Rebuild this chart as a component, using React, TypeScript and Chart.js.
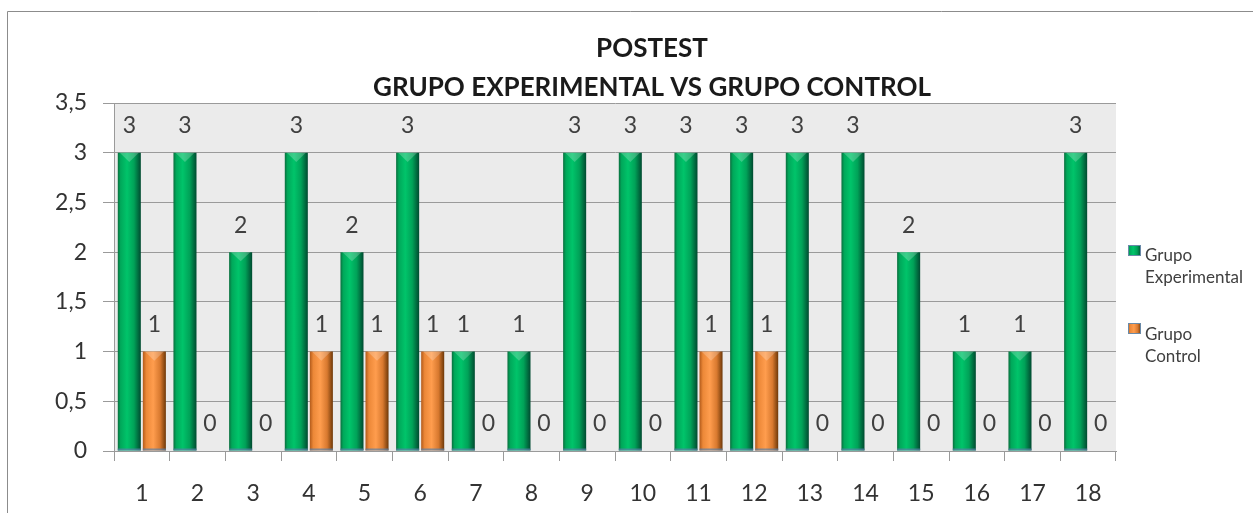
import React, { useEffect, useRef } from "react";
import { Chart, registerables } from "chart.js";

Chart.register(...registerables);

const categories = ["1", "2", "3", "4", "5", "6", "7", "8", "9", "10", "11", "12", "13", "14", "15", "16", "17", "18"];
const grupoExperimental = [3, 3, 2, 3, 2, 3, 1, 1, 3, 3, 3, 3, 3, 3, 2, 1, 1, 3];
const grupoControl = [1, 0, 0, 1, 1, 1, 0, 0, 0, 0, 1, 1, 0, 0, 0, 0, 0, 0];
const seriesNames = ["Grupo Experimental", "Grupo Control"];
const titleLines = ["POSTEST", "GRUPO EXPERIMENTAL VS GRUPO CONTROL"];

const FONT = "Lato";
const CAT_PCT = 0.9;
const BAR_PCT = 0.92;

const greenStops: [number, string][] = [
  [0, "#0a6e3e"],
  [0.12, "#00a85a"],
  [0.4, "#00c46a"],
  [0.7, "#00a258"],
  [1, "#004a30"],
];
const orangeStops: [number, string][] = [
  [0, "#b25a1a"],
  [0.15, "#ec8838"],
  [0.45, "#ff9d4e"],
  [0.75, "#d8792f"],
  [1, "#6e3808"],
];

function barGradient(ctx: any, stops: [number, string][]) {
  const chart = ctx.chart;
  const xs = chart.scales && chart.scales.x;
  if (!xs || ctx.dataIndex === undefined || !chart.chartArea) return stops[2][1];
  const catW = (xs.right - xs.left) / categories.length;
  const slot = (catW * CAT_PCT) / 2;
  const w = slot * BAR_PCT;
  const c = xs.getPixelForValue(ctx.dataIndex) + (ctx.datasetIndex === 0 ? -slot / 2 : slot / 2);
  const g = chart.ctx.createLinearGradient(c - w / 2, 0, c + w / 2, 0);
  stops.forEach(([o, col]) => g.addColorStop(o, col));
  return g;
}

const decorPlugin = {
  id: "decor",
  beforeDraw(chart: any) {
    const { ctx, chartArea, width, height } = chart;
    ctx.save();
    ctx.fillStyle = "#ffffff";
    ctx.fillRect(0, 0, width, height);
    ctx.fillStyle = "#ebebeb";
    ctx.fillRect(chartArea.left, chartArea.top, chartArea.right - chartArea.left, chartArea.bottom - chartArea.top);
    ctx.strokeStyle = "#8c8c8c";
    ctx.lineWidth = 1;
    ctx.beginPath();
    ctx.moveTo(7.5, height);
    ctx.lineTo(7.5, 11.5);
    ctx.lineTo(width, 11.5);
    ctx.stroke();
    ctx.restore();
  },
  afterDatasetsDraw(chart: any) {
    // subtle top bevel and base strip on each bar
    const { ctx } = chart;
    ctx.save();
    chart.data.datasets.forEach((ds: any, di: number) => {
      const meta = chart.getDatasetMeta(di);
      meta.data.forEach((el: any, i: number) => {
        if (!ds.data[i]) return;
        const l = el.x - el.width / 2;
        const r = el.x + el.width / 2;
        const t = el.y;
        ctx.fillStyle = "rgba(255,255,255,0.22)";
        ctx.beginPath();
        ctx.moveTo(l + 2, t);
        ctx.lineTo(r - 2, t);
        ctx.lineTo(el.x, t + el.width * 0.4);
        ctx.closePath();
        ctx.fill();
        ctx.fillStyle = "rgba(90,130,170,0.7)";
        ctx.fillRect(l, el.base - 2, el.width, 2);
      });
    });
    ctx.restore();
  },
  afterDraw(chart: any) {
    const { ctx } = chart;
    ctx.save();
    // title
    ctx.fillStyle = "#1a1a1a";
    ctx.font = `bold 26px ${FONT}`;
    ctx.textAlign = "center";
    ctx.textBaseline = "middle";
    ctx.fillText(titleLines[0], 652, 49);
    ctx.fillText(titleLines[1], 652, 88);

    // value labels
    ctx.fillStyle = "#404040";
    ctx.font = `23px ${FONT}`;
    chart.data.datasets.forEach((ds: any, di: number) => {
      const meta = chart.getDatasetMeta(di);
      meta.data.forEach((el: any, i: number) => {
        ctx.fillText(String(ds.data[i]), el.x, el.y - 27);
      });
    });

    // legend
    const items = [
      { lines: ["Grupo", "Experimental"], stops: greenStops, my: 245, ty: 256 },
      { lines: ["Grupo", "Control"], stops: orangeStops, my: 323, ty: 335 },
    ];
    ctx.textAlign = "left";
    ctx.font = `17px ${FONT}`;
    items.forEach((it) => {
      const g = ctx.createLinearGradient(1128, 0, 1141, 0);
      it.stops.forEach(([o, c]) => g.addColorStop(o, c));
      ctx.fillStyle = g;
      ctx.fillRect(1128, it.my, 13, 11);
      ctx.strokeStyle = "#6a8aa8";
      ctx.lineWidth = 1;
      ctx.strokeRect(1128.5, it.my + 0.5, 12, 10);
      ctx.fillStyle = "#404040";
      it.lines.forEach((ln, k) => ctx.fillText(ln, 1145, it.ty + k * 22));
    });
    ctx.restore();
  },
};

export default function App() {
  const ref = useRef<HTMLCanvasElement>(null);
  useEffect(() => {
    if (!ref.current) return;
    const chart = new Chart(ref.current, {
      type: "bar",
      data: {
        labels: categories,
        datasets: [
          {
            label: seriesNames[0],
            data: grupoExperimental,
            backgroundColor: (c: any) => barGradient(c, greenStops),
            borderWidth: 0,
            categoryPercentage: CAT_PCT,
            barPercentage: BAR_PCT,
          },
          {
            label: seriesNames[1],
            data: grupoControl,
            backgroundColor: (c: any) => barGradient(c, orangeStops),
            borderWidth: 0,
            categoryPercentage: CAT_PCT,
            barPercentage: BAR_PCT,
          },
        ],
      },
      options: {
        responsive: false,
        animation: false,
        events: [],
        layout: { padding: { top: 103, right: 137, left: 0, bottom: 0 } },
        plugins: { legend: { display: false }, title: { display: false }, tooltip: { enabled: false } },
        scales: {
          x: {
            grid: { drawOnChartArea: false, drawTicks: true, tickLength: 10, color: "#9a9a9a", offset: true },
            border: { color: "#9a9a9a" },
            ticks: { padding: 19, color: "#333333", font: { family: FONT, size: 23 }, maxRotation: 0 },
            afterFit: (s: any) => {
              s.height = 62;
            },
          },
          y: {
            min: 0,
            max: 3.5,
            grid: { color: "#9a9a9a", tickLength: 11 },
            border: { color: "#9a9a9a" },
            ticks: {
              stepSize: 0.5,
              padding: 16,
              color: "#333333",
              font: { family: FONT, size: 23 },
              callback: (v: any) => String(v).replace(".", ","),
            },
            afterFit: (s: any) => {
              s.width = 114;
            },
          },
        },
      },
      plugins: [decorPlugin],
    });
    return () => chart.destroy();
  }, []);
  return (
    <div style={{ position: "absolute", left: 0, top: 0, width: 1253, height: 513 }}>
      <canvas ref={ref} width={1253} height={513} />
    </div>
  );
}
